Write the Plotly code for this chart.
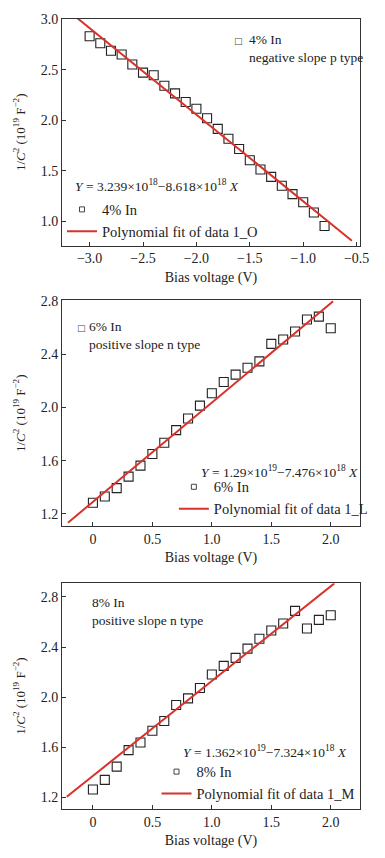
import plotly.graph_objects as go

# ---------------- data ----------------
x_4 = [-3.0, -2.9, -2.8, -2.7, -2.6, -2.5, -2.4, -2.3, -2.2, -2.1, -2.0, -1.9,
       -1.8, -1.7, -1.6, -1.5, -1.4, -1.3, -1.2, -1.1, -1.0, -0.9, -0.8]
y_4 = [2.83, 2.76, 2.686, 2.65, 2.55, 2.47, 2.444, 2.34, 2.265, 2.18, 2.114, 2.02,
       1.915, 1.817, 1.716, 1.605, 1.513, 1.441, 1.353, 1.27, 1.19, 1.088, 0.955]

x_68 = [0.0, 0.1, 0.2, 0.3, 0.4, 0.5, 0.6, 0.7, 0.8, 0.9, 1.0,
        1.1, 1.2, 1.3, 1.4, 1.5, 1.6, 1.7, 1.8, 1.9, 2.0]
y_6 = [1.283, 1.33, 1.393, 1.48, 1.563, 1.65, 1.735, 1.83, 1.918, 2.015, 2.108,
       2.193, 2.248, 2.30, 2.348, 2.48, 2.513, 2.573, 2.663, 2.685, 2.598]
y_8 = [1.261, 1.338, 1.444, 1.576, 1.637, 1.73, 1.809, 1.936, 1.989, 2.072, 2.18,
       2.249, 2.313, 2.387, 2.466, 2.532, 2.588, 2.689, 2.548, 2.617, 2.654]

# fitted lines (intercept, slope, x-span) in units of 1e19 F^-2
fit_4 = (0.345, -0.855, -3.12, -0.544)
fit_6 = (1.29, 0.7476, -0.21, 2.02)
fit_8 = (1.37, 0.758, -0.22, 2.03)

series_names = ["4% In", "6% In", "8% In"]
fit_names = ["Polynomial fit of data 1_O", "Polynomial fit of data 1_L",
             "Polynomial fit of data 1_M"]
equations = ["<i>Y</i> = 3.239×10<sup>18</sup>−8.618×10<sup>18</sup> <i>X</i>",
             "<i>Y</i> = 1.29×10<sup>19</sup>−7.476×10<sup>18</sup> <i>X</i>",
             "<i>Y</i> = 1.362×10<sup>19</sup>−7.324×10<sup>18</sup> <i>X</i>"]
types = ["negative slope p type", "positive slope n type", "positive slope n type"]

x_ticks_neg = [-3.0, -2.5, -2.0, -1.5, -1.0, -0.5]
x_ticks_pos = [0, 0.5, 1.0, 1.5, 2.0]
x_ticks_pos_text = ["0", "0.5", "1.0", "1.5", "2.0"]

# ---------------- figure ----------------
W, H = 385, 858
ML, MR, MT, MB = 62, 14, 15, 47
PW, PH = W - ML - MR, H - MT - MB


def px(xp):
    return (xp - ML) / PW


def py(yp):
    return (H - MB - yp) / PH


fig = go.Figure()

FONT = "Liberation Serif"
RED = "#d8322b"
DARK = "#333333"
TXT = "#222222"

domains = [(py(243.3), py(15)), (py(526), py(298.5)), (py(811), py(583.5))]
xranges = [[-3.2586, -0.468], [-0.26, 2.246], [-0.26, 2.246]]
yranges = [[0.762, 3.0], [1.107, 2.8075], [1.105, 2.91]]
xs_list = [x_4, x_68, x_68]
ys_list = [y_4, y_6, y_8]
fits = [fit_4, fit_6, fit_8]
legend_ids = ["legend", "legend2", "legend3"]
legend_pos = [(62, 218), (178, 497.5), (160, 784.5)]

for i in range(3):
    xa = "x" if i == 0 else f"x{i+1}"
    ya = "y" if i == 0 else f"y{i+1}"
    b0, b1, xs0, xs1 = fits[i]
    fig.add_trace(go.Scatter(
        x=xs_list[i], y=ys_list[i], mode="markers", xaxis=xa, yaxis=ya,
        marker=dict(symbol="square-open", size=9, color="#222222",
                    line=dict(width=1.1)),
        showlegend=False, cliponaxis=False))
    fig.add_trace(go.Scatter(
        x=[None], y=[None], mode="markers", xaxis=xa, yaxis=ya,
        marker=dict(symbol="square-open", size=5, color="#444444",
                    line=dict(width=1)),
        name=series_names[i], legend=legend_ids[i]))
    fig.add_trace(go.Scatter(
        x=[xs0, xs1], y=[b0 + b1 * xs0, b0 + b1 * xs1], mode="lines",
        xaxis=xa, yaxis=ya, line=dict(color=RED, width=2),
        name=fit_names[i], legend=legend_ids[i]))

    axis_common = dict(showline=True, linecolor=DARK, linewidth=1, mirror=True,
                       ticks="inside", ticklen=4, tickcolor=DARK, showgrid=False,
                       zeroline=False, tickfont=dict(family=FONT, size=14, color=TXT))
    if i == 0:
        xt = dict(tickmode="array", tickvals=x_ticks_neg, tickformat=".1f")
    else:
        xt = dict(tickmode="array", tickvals=x_ticks_pos, ticktext=x_ticks_pos_text)
    fig.layout[f"xaxis{'' if i == 0 else i+1}"] = dict(
        domain=[0, 1], anchor=ya, range=xranges[i],
        title=dict(text="Bias voltage (V)", font=dict(family=FONT, size=14, color=TXT),
                   standoff=6),
        **xt, **axis_common)
    fig.layout[f"yaxis{'' if i == 0 else i+1}"] = dict(
        domain=list(domains[i]), anchor=xa, range=yranges[i],
        dtick=0.5 if i == 0 else 0.4, tick0=0, tickformat=".1f",
        title=dict(text="1/<i>C</i><sup>2</sup> (10<sup>19</sup> F<sup>−2</sup>)",
                   font=dict(family=FONT, size=13, color=TXT), standoff=12),
        **axis_common)
    lx, ly = legend_pos[i]
    fig.layout[legend_ids[i]] = dict(
        x=px(lx), y=py(ly), xanchor="left", yanchor="middle",
        bgcolor="rgba(0,0,0,0)", font=dict(family=FONT, size=14.5, color=TXT),
        tracegroupgap=0)

ann = []
eq_pos = [(73, 183), (204, 470.7), (185, 753)]
for i in range(3):
    ann.append(dict(text=equations[i], x=px(eq_pos[i][0]), y=py(eq_pos[i][1]),
                    xref="paper", yref="paper", xanchor="left", yanchor="middle",
                    showarrow=False, font=dict(family=FONT, size=13.5, color=TXT)))
lab_pos = [(254, 45), (88, 333.5), (91, 611.7)]
for i in range(3):
    ann.append(dict(text=series_names[i] + "<br>" + types[i], x=px(lab_pos[i][0]),
                    y=py(lab_pos[i][1]), xref="paper", yref="paper", xanchor="left",
                    yanchor="middle", align="left", showarrow=False,
                    font=dict(family=FONT, size=13.5, color=TXT)))
sq_pos = [(245, 37), (82, 326)]
for xp_, yp_ in sq_pos:
    ann.append(dict(text="□", x=px(xp_), y=py(yp_), xref="paper", yref="paper",
                    xanchor="center", yanchor="middle", showarrow=False,
                    font=dict(family="DejaVu Sans", size=9, color="#444444")))

fig.update_layout(
    width=W, height=H, margin=dict(l=ML, r=MR, t=MT, b=MB),
    paper_bgcolor="white", plot_bgcolor="white", annotations=ann,
    font=dict(family=FONT, color=TXT))

fig.write_html("out.html", config={"displayModeBar": False},
               post_script="document.body.style.margin='0';")
